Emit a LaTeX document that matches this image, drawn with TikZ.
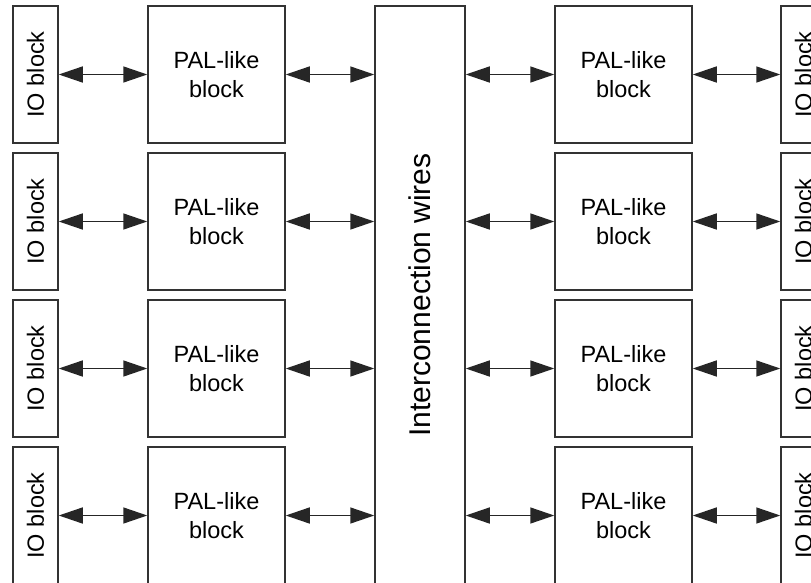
\documentclass[tikz,border=0pt]{standalone}
\usepackage{fontspec}
\setmainfont{Liberation Sans}
\usetikzlibrary{arrows.meta}

\begin{document}
\begin{tikzpicture}[x=1pt,y=-1pt,
  blk/.style={draw=black!80, line width=1.5pt, fill=white, inner sep=0pt},
  ioblock/.style={blk, rotate=90, minimum width=137pt, minimum height=45pt,
    font=\fontsize{23.5}{28.5}\selectfont},
  palblock/.style={blk, minimum width=137pt, minimum height=137pt, align=center,
    font=\fontsize{23.5}{28.5}\selectfont},
  link/.style={draw=black!85, line width=1.5pt, {Triangle[length=24pt,width=16pt]}-{Triangle[length=24pt,width=16pt]}}]
\useasboundingbox (0,0) rectangle (811,583);

\node[blk, rotate=90, minimum width=578pt, minimum height=90pt,
  font=\fontsize{30}{36}\selectfont] (wires) at (420,295) {Interconnection wires};

\node[ioblock] (io1) at (35.5,74.5) {IO block};
\node[ioblock] (io2) at (35.5,221.5) {IO block};
\node[ioblock] (io3) at (35.5,368.5) {IO block};
\node[ioblock] (io4) at (35.5,515.5) {IO block};
\node[palblock] (pal1) at (216.5,74.5) {PAL-like\\block};
\node[palblock] (pal2) at (216.5,221.5) {PAL-like\\block};
\node[palblock] (pal3) at (216.5,368.5) {PAL-like\\block};
\node[palblock] (pal4) at (216.5,515.5) {PAL-like\\block};

\node[palblock] (pal5) at (623.5,74.5) {PAL-like\\block};
\node[palblock] (pal6) at (623.5,221.5) {PAL-like\\block};
\node[palblock] (pal7) at (623.5,368.5) {PAL-like\\block};
\node[palblock] (pal8) at (623.5,515.5) {PAL-like\\block};
\node[ioblock] (io5) at (803.5,74.5) {IO block};
\node[ioblock] (io6) at (803.5,221.5) {IO block};
\node[ioblock] (io7) at (803.5,368.5) {IO block};
\node[ioblock] (io8) at (803.5,515.5) {IO block};

% left half
\path[link] (io1) -- (pal1);
\path[link] (io2) -- (pal2);
\path[link] (io3) -- (pal3);
\path[link] (io4) -- (pal4);
\path[link] (pal1.east) -- (pal1.east -| wires.north);
\path[link] (pal2.east) -- (pal2.east -| wires.north);
\path[link] (pal3.east) -- (pal3.east -| wires.north);
\path[link] (pal4.east) -- (pal4.east -| wires.north);

% right half
\path[link] (pal5.west -| wires.south) -- (pal5.west);
\path[link] (pal6.west -| wires.south) -- (pal6.west);
\path[link] (pal7.west -| wires.south) -- (pal7.west);
\path[link] (pal8.west -| wires.south) -- (pal8.west);
\path[link] (pal5) -- (io5);
\path[link] (pal6) -- (io6);
\path[link] (pal7) -- (io7);
\path[link] (pal8) -- (io8);
\end{tikzpicture}
\end{document}
